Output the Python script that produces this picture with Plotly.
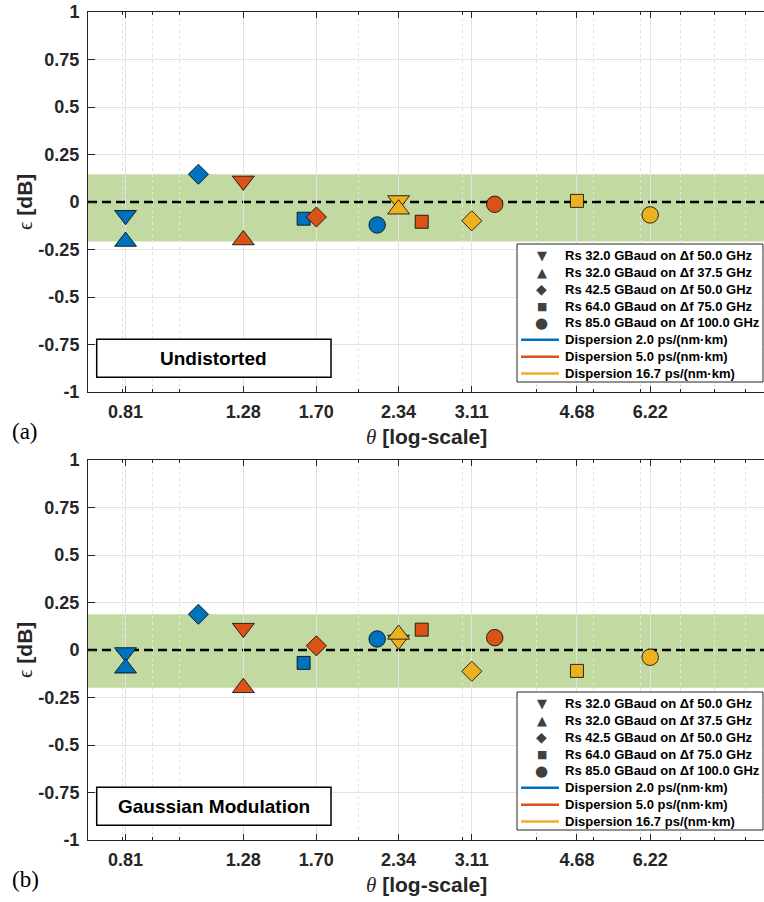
import math
import plotly.graph_objects as go

# ---------------- data ----------------
formats = ["Rs 32.0 GBaud on Δf 50.0 GHz", "Rs 32.0 GBaud on Δf 37.5 GHz",
           "Rs 42.5 GBaud on Δf 50.0 GHz", "Rs 64.0 GBaud on Δf 75.0 GHz",
           "Rs 85.0 GBaud on Δf 100.0 GHz"]
symbols = ["triangle-down", "triangle-up", "diamond", "square", "circle"]
legend_glyphs = ["▼", "▲", "◆", "■", "●"]
dispersions = ["Dispersion 2.0 ps/(nm·km)", "Dispersion 5.0 ps/(nm·km)",
               "Dispersion 16.7 ps/(nm·km)"]
colors = ["#0072BD", "#D95319", "#EDB120"]

# theta per dispersion (order of formats)
theta_d2 = [0.81, 0.81, 1.075, 1.618, 2.153]
theta_d5 = [1.28, 1.28, 1.70, 2.56, 3.40]
theta_d167 = [2.34, 2.34, 3.11, 4.68, 6.22]

# panel (a) Undistorted, epsilon [dB]
eps_a_d2 = [-0.070, -0.208, 0.146, -0.088, -0.121]
eps_a_d5 = [0.111, -0.200, -0.079, -0.104, -0.012]
eps_a_d167 = [0.008, -0.038, -0.099, 0.006, -0.068]

# panel (b) Gaussian Modulation, epsilon [dB]
eps_b_d2 = [-0.013, -0.096, 0.188, -0.068, 0.058]
eps_b_d5 = [0.115, -0.199, 0.022, 0.107, 0.065]
eps_b_d167 = [0.053, 0.082, -0.112, -0.110, -0.038]

xtick_vals = [0.81, 1.28, 1.70, 2.34, 3.11, 4.68, 6.22]
xminor_vals = [0.7, 0.8, 0.9, 1, 2, 3, 4, 5, 6, 7, 8, 9]
ytick_vals = [-1, -0.75, -0.5, -0.25, 0, 0.25, 0.5, 0.75, 1]
ytick_text = ["-1", "-0.75", "-0.5", "-0.25", "0", "0.25", "0.5", "0.75", "1"]
ygrid_vals = [-0.75, -0.5, -0.25, 0.25, 0.5, 0.75]
panel_titles = ["Undistorted", "Gaussian Modulation"]
panel_tags = ["(a)", "(b)"]
ref_level = 0.0

thetas = [theta_d2, theta_d5, theta_d167]
panels = [[eps_a_d2, eps_a_d5, eps_a_d167], [eps_b_d2, eps_b_d5, eps_b_d167]]

# ---------------- styling ----------------
W, H = 764, 902
ML, MR, MT, MB = 88, 0, 12, 62
sizes = {"triangle-down": 19, "triangle-up": 19, "diamond": 15.5, "square": 13, "circle": 16.5}
glyph_sizes = [13, 13, 14, 11, 15]
AX = "#262626"
FONT = "Liberation Sans"

fig = go.Figure()

for p, eps_sets in enumerate(panels):
    xa = "x" if p == 0 else "x2"
    ya = "y" if p == 0 else "y2"
    for k in range(3):
        fig.add_trace(go.Scatter(
            x=thetas[k], y=eps_sets[k], mode="markers", xaxis=xa, yaxis=ya,
            showlegend=False, name=dispersions[k],
            marker=dict(symbol=symbols, size=[sizes[s] for s in symbols], opacity=1,
                        color=colors[k], line=dict(color="black", width=0.8)),
        ))

shapes = []
annotations = []

def dx(px):
    return (px - ML) / (W - ML - MR)

def dy(py):
    return (392 - py) / 380.0

for p, eps_sets in enumerate(panels):
    xr = "x domain" if p == 0 else "x2 domain"
    yr = "y domain" if p == 0 else "y2 domain"
    yd = "y" if p == 0 else "y2"
    allv = [v for s in eps_sets for v in s]
    # green min/max band
    shapes.append(dict(type="rect", xref=xr, yref=yd, x0=0, x1=1,
                       y0=min(allv), y1=max(allv), fillcolor="rgba(119,172,48,0.45)",
                       line=dict(width=0), layer="below"))
    # dashed reference line
    shapes.append(dict(type="line", xref=xr, yref=yd, x0=0, x1=1,
                       y0=ref_level, y1=ref_level,
                       line=dict(color="black", width=2.6, dash="9px,5px"), layer="below"))
    # legend box
    shapes.append(dict(type="rect", xref=xr, yref=yr, x0=dx(517), x1=dx(763),
                       y0=dy(382), y1=dy(244), fillcolor="white",
                       line=dict(color=AX, width=1), layer="above"))
    row0, step = 255.3, 16.9
    labels = formats + dispersions
    for i, lab in enumerate(labels):
        yy = row0 + i * step
        annotations.append(dict(xref=xr, yref=yr, x=dx(563), y=dy(yy), text="<b>%s</b>" % lab,
                                showarrow=False, xanchor="left", yanchor="middle",
                                font=dict(family=FONT, size=13, color="black")))
        if i < 5:
            annotations.append(dict(xref=xr, yref=yr, x=dx(541.5), y=dy(yy), text=legend_glyphs[i],
                                    showarrow=False, xanchor="center", yanchor="middle",
                                    borderpad=0,
                                    font=dict(family="DejaVu Sans", size=glyph_sizes[i], color="#404040")))
        else:
            shapes.append(dict(type="line", xref=xr, yref=yr, x0=dx(521), x1=dx(559),
                               y0=dy(yy), y1=dy(yy), line=dict(color=colors[i - 5], width=2.5),
                               layer="above"))
    # text box
    shapes.append(dict(type="rect", xref=xr, yref=yr, x0=dx(96.7), x1=dx(331),
                       y0=dy(377.3), y1=dy(339.3), fillcolor="white",
                       line=dict(color="black", width=1.5), layer="above"))
    annotations.append(dict(xref=xr, yref=yr, x=dx(213.8), y=dy(358.3),
                            text="<b>%s</b>" % panel_titles[p], showarrow=False,
                            xanchor="center", yanchor="middle",
                            font=dict(family=FONT, size=19, color="black")))
    # axis titles
    annotations.append(dict(xref=xr, yref=yr, x=dx(426), y=dy(437),
                            text="<span style='font-family:Liberation Serif'><i>θ</i></span> <b>[log-scale]</b>",
                            showarrow=False, xanchor="center", yanchor="middle",
                            font=dict(family=FONT, size=21, color=AX)))
    annotations.append(dict(xref=xr, yref=yr, x=dx(25), y=dy(202), textangle=-90,
                            text="<span style='font-family:Liberation Serif'>ϵ</span> <b>[dB]</b>",
                            showarrow=False, xanchor="center", yanchor="middle",
                            font=dict(family=FONT, size=21, color=AX)))
    annotations.append(dict(xref=xr, yref=yr, x=dx(25), y=dy(431), text=panel_tags[p],
                            showarrow=False, xanchor="center", yanchor="middle",
                            font=dict(family="Liberation Serif", size=23, color="black")))

tickfont = dict(family=FONT, size=18, color=AX, weight="bold")
xaxis_common = dict(
    type="log", range=[math.log10(0.7), math.log10(9.68)],
    tickmode="array", tickvals=xtick_vals, ticktext=["%.2f" % v for v in xtick_vals],
    ticks="inside", ticklen=6, tickwidth=1, tickcolor=AX,
    showline=True, linecolor=AX, linewidth=1, mirror="allticks",
    showgrid=True, gridcolor="#e2e2e2", gridwidth=1, zeroline=False,
    minor=dict(tickvals=xminor_vals, ticks="inside", ticklen=3, tickcolor=AX,
               showgrid=True, gridcolor="#e4e4e4", griddash="dot", gridwidth=1),
    tickfont=tickfont, ticklabelstandoff=3, domain=[0, 1],
)
yaxis_common = dict(
    range=[-1, 1], tickmode="array", tickvals=ytick_vals, ticktext=ytick_text,
    ticks="inside", ticklen=7, tickwidth=1, tickcolor=AX,
    showline=True, linecolor=AX, linewidth=1, mirror=False,
    showgrid=False, zeroline=False,
    minor=dict(tickvals=ygrid_vals, ticks="", showgrid=True, gridcolor="#e2e2e2", gridwidth=1),
    tickfont=tickfont, ticklabelstandoff=4,
)
top_frac = 1 - (392 - 12) / (H - MT - MB)

fig.update_layout(
    width=W, height=H,
    margin=dict(l=ML, r=MR, t=MT, b=MB, pad=0),
    paper_bgcolor="white", plot_bgcolor="white",
    showlegend=False,
    xaxis=dict(xaxis_common, anchor="y"),
    yaxis=dict(yaxis_common, domain=[top_frac, 1], anchor="x"),
    xaxis2=dict(xaxis_common, anchor="y2"),
    yaxis2=dict(yaxis_common, domain=[0, 1 - top_frac], anchor="x2"),
    shapes=shapes, annotations=annotations,
)

fig.write_html("out.html")
